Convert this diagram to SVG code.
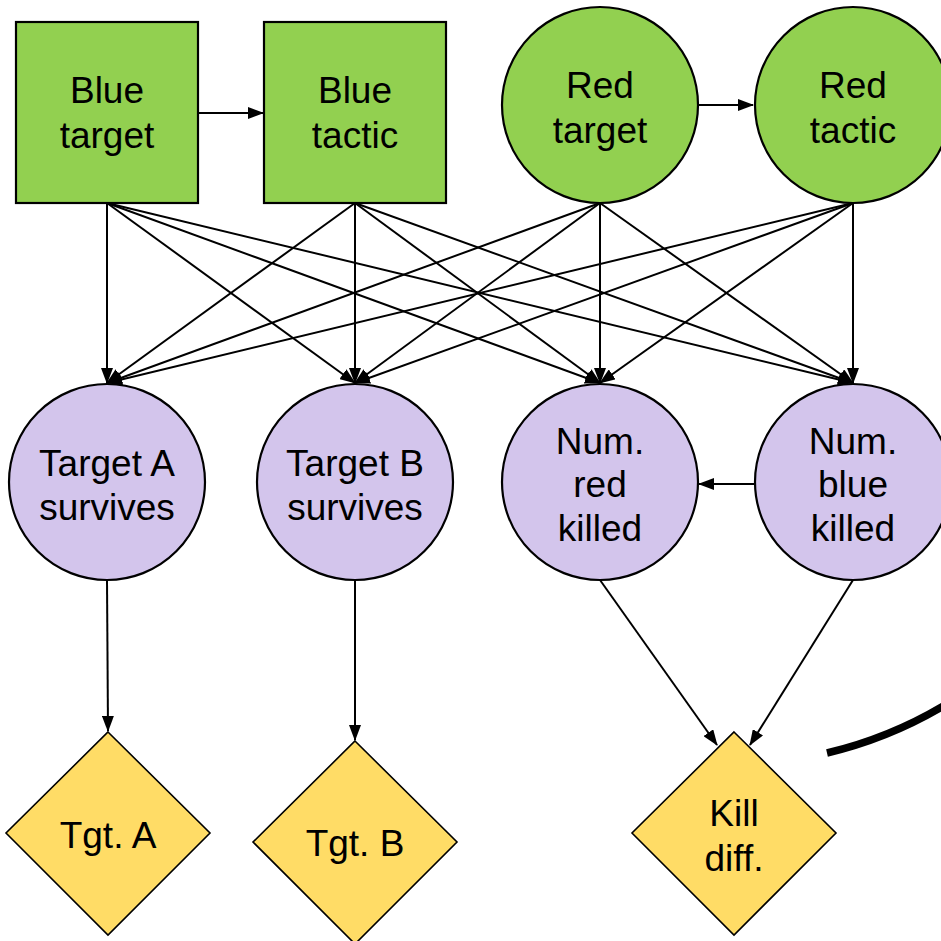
<svg xmlns="http://www.w3.org/2000/svg" width="941" height="941" viewBox="0 0 941 941">
  <style>
    .dec { fill: #92D050; stroke: #000; stroke-width: 2.2; }
    .chance { fill: #D3C5EC; stroke: #000; stroke-width: 2.2; }
    .util { fill: #FFDC66; stroke: #000; stroke-width: 1.6; }
    .lbl { font-family: "Liberation Sans", Arial, sans-serif; font-size: 37px; fill: #000; text-anchor: middle; }
    .edge { stroke: #000; stroke-width: 2; fill: none; marker-end: url(#arrow); }
  </style>
  <defs>
    <marker id="arrow" viewBox="0 0 16 12" refX="15" refY="6" markerWidth="16" markerHeight="12" markerUnits="userSpaceOnUse" orient="auto">
      <path d="M0,0 L16,6 L0,12 z" fill="#000"/>
    </marker>
  </defs>

  <g id="connectors">
    <line class="edge" x1="198" y1="113" x2="263" y2="113" />
    <line class="edge" x1="699" y1="105" x2="753" y2="105" />
    <!-- top row to middle row, every pair -->
    <line class="edge" x1="107" y1="203" x2="107" y2="383" />
    <line class="edge" x1="107" y1="203" x2="355" y2="383" />
    <line class="edge" x1="107" y1="203" x2="600" y2="383" />
    <line class="edge" x1="107" y1="203" x2="853" y2="383" />
    <line class="edge" x1="355" y1="203" x2="107" y2="383" />
    <line class="edge" x1="355" y1="203" x2="355" y2="383" />
    <line class="edge" x1="355" y1="203" x2="600" y2="383" />
    <line class="edge" x1="355" y1="203" x2="853" y2="383" />
    <line class="edge" x1="600" y1="203" x2="107" y2="383" />
    <line class="edge" x1="600" y1="203" x2="355" y2="383" />
    <line class="edge" x1="600" y1="203" x2="600" y2="383" />
    <line class="edge" x1="600" y1="203" x2="853" y2="383" />
    <line class="edge" x1="853" y1="203" x2="107" y2="383" />
    <line class="edge" x1="853" y1="203" x2="355" y2="383" />
    <line class="edge" x1="853" y1="203" x2="600" y2="383" />
    <line class="edge" x1="853" y1="203" x2="853" y2="383" />
    <!-- middle row -->
    <line class="edge" x1="755" y1="484" x2="699" y2="484" />
    <line class="edge" x1="107" y1="580" x2="108" y2="731" />
    <line class="edge" x1="355" y1="580" x2="355" y2="740" />
    <line class="edge" x1="600" y1="580" x2="717" y2="745" />
    <line class="edge" x1="853" y1="580" x2="750" y2="745" />
    <!-- heavy stroke at the right -->
    <path d="M827,753 Q890,738 945,705" stroke="#000" stroke-width="7.5" fill="none"/>
  </g>

  <g id="blue-target">
    <rect class="dec" x="16" y="22" width="182" height="181"/>
    <text class="lbl" x="107" y="103">Blue</text>
    <text class="lbl" x="107" y="148">target</text>
  </g>
  <g id="blue-tactic">
    <rect class="dec" x="264" y="22" width="182" height="181"/>
    <text class="lbl" x="355" y="103">Blue</text>
    <text class="lbl" x="355" y="148">tactic</text>
  </g>
  <g id="red-target">
    <circle class="dec" cx="600" cy="105" r="98"/>
    <text class="lbl" x="600" y="98">Red</text>
    <text class="lbl" x="600" y="143">target</text>
  </g>
  <g id="red-tactic">
    <circle class="dec" cx="853" cy="105" r="98"/>
    <text class="lbl" x="853" y="98">Red</text>
    <text class="lbl" x="853" y="143">tactic</text>
  </g>

  <g id="target-a-survives">
    <circle class="chance" cx="107" cy="482" r="98"/>
    <text class="lbl" x="107" y="476">Target A</text>
    <text class="lbl" x="107" y="520">survives</text>
  </g>
  <g id="target-b-survives">
    <circle class="chance" cx="355" cy="482" r="98"/>
    <text class="lbl" x="355" y="476">Target B</text>
    <text class="lbl" x="355" y="520">survives</text>
  </g>
  <g id="num-red-killed">
    <circle class="chance" cx="600" cy="482" r="98"/>
    <text class="lbl" x="600" y="454">Num.</text>
    <text class="lbl" x="600" y="497">red</text>
    <text class="lbl" x="600" y="541">killed</text>
  </g>
  <g id="num-blue-killed">
    <circle class="chance" cx="853" cy="482" r="98"/>
    <text class="lbl" x="853" y="454">Num.</text>
    <text class="lbl" x="853" y="497">blue</text>
    <text class="lbl" x="853" y="541">killed</text>
  </g>

  <g id="tgt-a">
    <polygon class="util" points="108,732 210,833 108,935 6,833"/>
    <text class="lbl" x="108" y="848">Tgt. A</text>
  </g>
  <g id="tgt-b">
    <polygon class="util" points="355,741 457,842 355,944 253,842"/>
    <text class="lbl" x="355" y="856">Tgt. B</text>
  </g>
  <g id="kill-diff">
    <polygon class="util" points="734,732 836,833 734,935 632,833"/>
    <text class="lbl" x="734" y="826">Kill</text>
    <text class="lbl" x="734" y="871">diff.</text>
  </g>
</svg>
